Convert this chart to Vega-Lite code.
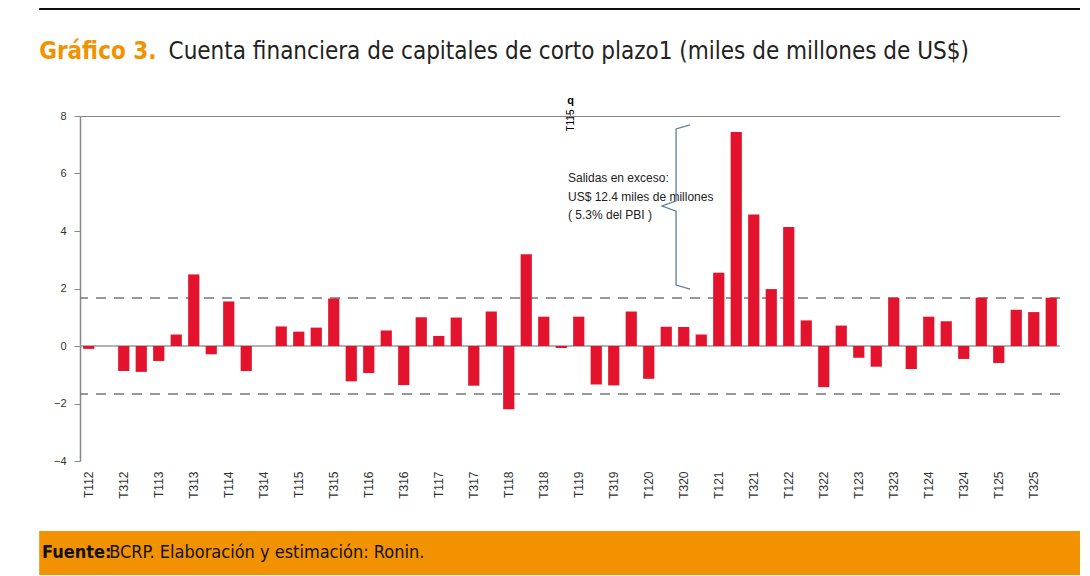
{
  "$schema": "https://vega.github.io/schema/vega-lite/v6.json",
  "padding": {"left": 10, "top": 8, "right": 10, "bottom": 0},
  "background": "white",
  "spacing": 15,
  "config": {"view": {"stroke": null}},
  "datasets": {
    "bars": [
      {"q": "T112", "v": -0.1}, {"q": "T212", "v": 0}, {"q": "T312", "v": -0.87}, {"q": "T412", "v": -0.9},
      {"q": "T113", "v": -0.52}, {"q": "T213", "v": 0.4}, {"q": "T313", "v": 2.49}, {"q": "T413", "v": -0.29},
      {"q": "T114", "v": 1.55}, {"q": "T214", "v": -0.87}, {"q": "T314", "v": 0}, {"q": "T414", "v": 0.68},
      {"q": "T115", "v": 0.5}, {"q": "T215", "v": 0.64}, {"q": "T315", "v": 1.65}, {"q": "T415", "v": -1.23},
      {"q": "T116", "v": -0.94}, {"q": "T216", "v": 0.54}, {"q": "T316", "v": -1.36}, {"q": "T416", "v": 1.0},
      {"q": "T117", "v": 0.35}, {"q": "T217", "v": 0.99}, {"q": "T317", "v": -1.38}, {"q": "T417", "v": 1.2},
      {"q": "T118", "v": -2.2}, {"q": "T218", "v": 3.19}, {"q": "T318", "v": 1.02}, {"q": "T418", "v": -0.07},
      {"q": "T119", "v": 1.02}, {"q": "T219", "v": -1.34}, {"q": "T319", "v": -1.37}, {"q": "T419", "v": 1.2},
      {"q": "T120", "v": -1.14}, {"q": "T220", "v": 0.67}, {"q": "T320", "v": 0.66}, {"q": "T420", "v": 0.4},
      {"q": "T121", "v": 2.55}, {"q": "T221", "v": 7.44}, {"q": "T321", "v": 4.57}, {"q": "T421", "v": 1.98},
      {"q": "T122", "v": 4.14}, {"q": "T222", "v": 0.89}, {"q": "T322", "v": -1.43}, {"q": "T422", "v": 0.71},
      {"q": "T123", "v": -0.41}, {"q": "T223", "v": -0.72}, {"q": "T323", "v": 1.68}, {"q": "T423", "v": -0.8},
      {"q": "T124", "v": 1.02}, {"q": "T224", "v": 0.86}, {"q": "T324", "v": -0.45}, {"q": "T424", "v": 1.68},
      {"q": "T125", "v": -0.59}, {"q": "T225", "v": 1.26}, {"q": "T325", "v": 1.18}, {"q": "T425", "v": 1.68}
    ],
    "brace": [
      {"o": 1, "x": 34.86, "y": 7.69}, {"o": 2, "x": 34.06, "y": 7.55}, {"o": 3, "x": 34.06, "y": 5.05},
      {"o": 4, "x": 33.26, "y": 4.87}, {"o": 5, "x": 34.06, "y": 4.69}, {"o": 6, "x": 34.06, "y": 2.12},
      {"o": 7, "x": 34.86, "y": 1.98}
    ],
    "notes": [
      {"q": "T115", "y": 5.85, "t": "Salidas  en  exceso:"},
      {"q": "T115", "y": 5.2, "t": "US$  12.4  miles  de  millones"},
      {"q": "T115", "y": 4.55, "t": "( 5.3%  del  PBI )"}
    ],
    "refs": [{"y": 1.67}, {"y": -1.67}],
    "zero": [{"y": 0}]
  },
  "vconcat": [
    {
      "width": 1000,
      "height": 70,
      "data": {"values": [{"a": "Gráfico 3.", "b": "Cuenta financiera de capitales de corto plazo1 (miles de millones de US$)"}]},
      "layer": [
        {
          "mark": {"type": "rule", "color": "#111", "strokeWidth": 2, "clip": false},
          "encoding": {
            "x": {"datum": -70, "type": "quantitative", "scale": {"domain": [-70, 1000], "range": [-70, 1000]}, "axis": null},
            "x2": {"datum": 1000},
            "y": {"datum": 70, "type": "quantitative", "scale": {"domain": [0, 70]}, "axis": null}
          }
        },
        {
          "mark": {"type": "text", "align": "left", "baseline": "alphabetic", "font": "DejaVu Sans Condensed", "fontSize": 24, "fontWeight": "bold", "color": "#f39200"},
          "encoding": {
            "x": {"datum": -70, "type": "quantitative"},
            "y": {"datum": 20, "type": "quantitative"},
            "text": {"field": "a"}
          }
        },
        {
          "mark": {"type": "text", "align": "left", "baseline": "alphabetic", "font": "DejaVu Sans Condensed", "fontSize": 24, "color": "#222"},
          "encoding": {
            "x": {"datum": 63, "type": "quantitative"},
            "y": {"datum": 20, "type": "quantitative"},
            "text": {"field": "b"}
          }
        }
      ]
    },
    {
      "width": 980,
      "height": 345,
      "layer": [
        {
          "data": {"name": "refs"},
          "mark": {"type": "rule", "color": "#777", "strokeWidth": 1.5, "strokeDash": [10, 8]},
          "encoding": {"y": {"field": "y", "type": "quantitative", "scale": {"domain": [-4, 8]}}}
        },
        {
          "data": {"name": "zero"},
          "mark": {"type": "rule", "color": "#999", "strokeWidth": 1.5},
          "encoding": {"y": {"field": "y", "type": "quantitative"}}
        },
        {
          "data": {"name": "bars"},
          "mark": {"type": "bar", "color": "#e3122d"},
          "encoding": {
            "x": {
              "field": "q", "type": "ordinal", "sort": null,
              "scale": {"paddingInner": 0.36, "paddingOuter": 0.18},
              "axis": {
                "title": null, "labelAngle": 270, "ticks": false, "domain": false,
                "labelExpr": "(substring(datum.label,1,2) == '1' || substring(datum.label,1,2) == '3') ? datum.label : ''",
                "labelFont": "Liberation Sans", "labelFontSize": 12, "labelColor": "#333",
                "labelPadding": 10, "minExtent": 55, "maxExtent": 55
              }
            },
            "y": {
              "field": "v", "type": "quantitative",
              "scale": {"domain": [-4, 8], "nice": false},
              "axis": {
                "title": null, "values": [-4, -2, 0, 2, 4, 6, 8], "grid": false,
                "domainColor": "#888", "domainWidth": 1.5, "tickColor": "#888", "tickSize": 6,
                "labelFont": "Liberation Sans", "labelFontSize": 11, "labelColor": "#333",
                "labelPadding": 8, "minExtent": 70, "maxExtent": 70
              }
            }
          }
        },
        {
          "data": {"name": "notes"},
          "mark": {"type": "text", "align": "left", "baseline": "middle", "font": "Liberation Sans", "fontSize": 12, "letterSpacing": 1, "color": "#222", "dx": -2},
          "encoding": {
            "x": {"field": "q", "type": "ordinal", "sort": null},
            "y": {"field": "y", "type": "quantitative"},
            "text": {"field": "t"}
          }
        },
        {
          "data": {"name": "brace"},
          "mark": {"type": "line", "color": "#5a7fa0", "strokeWidth": 1.3},
          "encoding": {
            "x": {"field": "x", "type": "quantitative", "scale": {"domain": [0, 56]}, "axis": null},
            "y": {"field": "y", "type": "quantitative"},
            "order": {"field": "o"}
          }
        }
      ],
      "resolve": {"scale": {"x": "independent"}}
    },
    {
      "width": 1000,
      "height": 44,
      "data": {"values": [{"a": "Fuente:", "b": "BCRP. Elaboración y estimación: Ronin."}]},
      "layer": [
        {
          "mark": {"type": "rect", "color": "#f39200", "clip": false},
          "encoding": {
            "x": {"datum": -70, "type": "quantitative", "scale": {"domain": [-70, 1000], "range": [-70, 1000]}, "axis": null},
            "x2": {"datum": 1000},
            "y": {"datum": 0, "type": "quantitative", "scale": {"domain": [0, 1]}, "axis": null},
            "y2": {"datum": 1}
          }
        },
        {
          "mark": {"type": "text", "align": "left", "baseline": "middle", "font": "DejaVu Sans Condensed", "fontSize": 18, "fontWeight": "bold", "color": "#111"},
          "encoding": {
            "x": {"datum": -67, "type": "quantitative"},
            "y": {"datum": 0.5, "type": "quantitative"},
            "text": {"field": "a"}
          }
        },
        {
          "mark": {"type": "text", "align": "left", "baseline": "middle", "font": "DejaVu Sans Condensed", "fontSize": 18, "color": "#111"},
          "encoding": {
            "x": {"datum": 2, "type": "quantitative"},
            "y": {"datum": 0.5, "type": "quantitative"},
            "text": {"field": "b"}
          }
        }
      ]
    }
  ]
}
